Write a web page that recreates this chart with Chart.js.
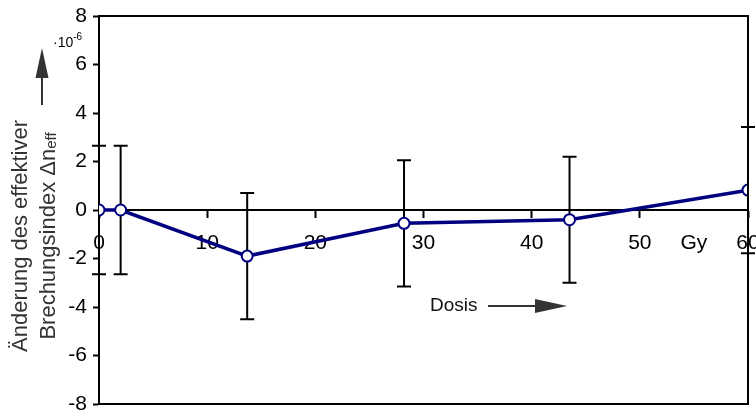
<!DOCTYPE html>
<html>
<head>
<meta charset="utf-8">
<script src="https://cdn.jsdelivr.net/npm/chart.js@4"></script>
<style>
html, body { margin: 0; padding: 0; background: #fff; }
#wrap { width: 756px; height: 414px; }
</style>
</head>
<body>
<div id="wrap"><canvas id="doseChart"></canvas></div>
<script>
// Messwerte (Dosis in Gy, Änderung in 1e-6)
const doseValues = [0, 2, 13.7, 28.2, 43.5, 60];
const deltaNeff = [0, 0, -1.9, -0.55, -0.4, 0.82];
const errorValues = [2.65, 2.65, 2.6, 2.6, 2.6, 2.6];
const xTickValues = [0, 10, 20, 30, 40, 50, 55, 60];
const xTickLabels = ['0', '10', '20', '30', '40', '50', 'Gy', '60'];
const yTickValues = [-8, -6, -4, -2, 0, 2, 4, 6, 8];

const FONT = '"Liberation Sans", Arial, sans-serif';

// Fehlerbalken hinter der Linie
const errorBarPlugin = {
    id: 'errorBars',
    beforeDatasetsDraw(chart) {
        const ctx = chart.ctx;
        const xs = chart.scales.x, ys = chart.scales.y;
        ctx.save();
        ctx.strokeStyle = '#000';
        ctx.lineWidth = 2;
        doseValues.forEach((d, i) => {
            const px = xs.getPixelForValue(d);
            const top = ys.getPixelForValue(deltaNeff[i] + errorValues[i]);
            const bot = ys.getPixelForValue(deltaNeff[i] - errorValues[i]);
            ctx.beginPath();
            ctx.moveTo(px, top); ctx.lineTo(px, bot);
            ctx.moveTo(px - 7, top); ctx.lineTo(px + 7, top);
            ctx.moveTo(px - 7, bot); ctx.lineTo(px + 7, bot);
            ctx.stroke();
        });
        ctx.restore();
    }
};

// Rahmen, Achsentitel, Pfeile
const decorPlugin = {
    id: 'decor',
    afterDraw(chart) {
        const ctx = chart.ctx;
        const a = chart.chartArea;
        ctx.save();
        ctx.strokeStyle = '#000';
        ctx.lineWidth = 2;
        ctx.beginPath();
        ctx.moveTo(a.left, a.top); ctx.lineTo(a.right, a.top);
        ctx.lineTo(a.right, a.bottom); ctx.lineTo(a.left, a.bottom);
        ctx.stroke();

        // y-Titel
        ctx.fillStyle = '#333';
        ctx.textBaseline = 'middle';
        ctx.translate(21, 236);
        ctx.rotate(-Math.PI / 2);
        ctx.font = '22px ' + FONT;
        ctx.textAlign = 'center';
        ctx.fillText('Änderung des effektiver', 0, 0);
        const main = 'Brechungsindex Δn';
        const sub = 'eff';
        const w1 = ctx.measureText(main).width;
        ctx.font = '15px ' + FONT;
        const w2 = ctx.measureText(sub).width;
        const sx = -(w1 + w2) / 2;
        ctx.textAlign = 'left';
        ctx.font = '22px ' + FONT;
        ctx.fillText(main, sx, 28);
        ctx.font = '15px ' + FONT;
        ctx.fillText(sub, sx + w1, 31);
        ctx.setTransform(1, 0, 0, 1, 0, 0);

        // Faktor 10^-6
        ctx.fillStyle = '#000';
        ctx.textAlign = 'left';
        ctx.textBaseline = 'alphabetic';
        ctx.font = '14px ' + FONT;
        ctx.fillText('·10', 53, 47);
        const wf = ctx.measureText('·10').width;
        ctx.font = '10px ' + FONT;
        ctx.fillText('-6', 53 + wf, 40);

        // Pfeil nach oben
        ctx.fillStyle = '#333';
        ctx.strokeStyle = '#333';
        ctx.lineWidth = 2;
        ctx.beginPath();
        ctx.moveTo(42, 105); ctx.lineTo(42, 76);
        ctx.stroke();
        ctx.beginPath();
        ctx.moveTo(35.5, 78); ctx.lineTo(48.5, 78); ctx.lineTo(42, 48);
        ctx.closePath();
        ctx.fill();

        // Dosis mit Pfeil
        ctx.fillStyle = '#111';
        ctx.font = '19px ' + FONT;
        ctx.textBaseline = 'middle';
        ctx.fillText('Dosis', 430, 306);
        ctx.fillStyle = '#333';
        ctx.beginPath();
        ctx.moveTo(488, 306); ctx.lineTo(537, 306);
        ctx.stroke();
        ctx.beginPath();
        ctx.moveTo(535, 299); ctx.lineTo(535, 313); ctx.lineTo(567, 306);
        ctx.closePath();
        ctx.fill();
        ctx.restore();
    }
};

const doseChartConfig = {
    type: 'line',
    data: {
        datasets: [{
            data: doseValues.map((d, i) => ({ x: d, y: deltaNeff[i] })),
            borderColor: '#000080',
            borderWidth: 3.5,
            pointRadius: 5.5,
            pointBorderWidth: 2,
            pointBackgroundColor: '#fff',
            pointBorderColor: '#000080',
            tension: 0
        }]
    },
    options: {
        responsive: true,
        maintainAspectRatio: false,
        animation: false,
        layout: { padding: { top: 16, right: 8, bottom: 10, left: 0 } },
        plugins: { legend: { display: false }, tooltip: { enabled: false } },
        scales: {
            x: {
                type: 'linear',
                min: 0,
                max: 60,
                position: { y: 0 },
                afterBuildTicks: scale => {
                    scale.ticks = xTickValues.map(v => ({ value: v }));
                },
                afterFit: scale => {
                    scale.paddingLeft = 0;
                    scale.paddingRight = 0;
                },
                ticks: {
                    autoSkip: false,
                    maxRotation: 0,
                    padding: 14,
                    color: '#000',
                    font: { family: FONT, size: 21 },
                    callback: value => xTickLabels[xTickValues.indexOf(value)]
                },
                grid: {
                    drawOnChartArea: false,
                    tickLength: 7,
                    tickWidth: 2,
                    tickColor: c => (c.tick && c.tick.value === 55) ? 'rgba(0,0,0,0)' : '#000'
                },
                border: { color: '#000', width: 2 }
            },
            y: {
                min: -8,
                max: 8,
                afterBuildTicks: scale => {
                    scale.ticks = yTickValues.map(v => ({ value: v }));
                },
                afterFit: scale => {
                    scale.width = 99;
                    scale.paddingTop = 0;
                    scale.paddingBottom = 0;
                },
                ticks: {
                    padding: 6,
                    color: '#000',
                    font: { family: FONT, size: 21 }
                },
                grid: {
                    drawOnChartArea: false,
                    tickLength: 6,
                    tickWidth: 2,
                    tickColor: '#000'
                },
                border: { color: '#000', width: 2 }
            }
        }
    },
    plugins: [errorBarPlugin, decorPlugin]
};

window.onload = function() {
    const ctx = document.getElementById('doseChart').getContext('2d');
    new Chart(ctx, doseChartConfig);
};
</script>
</body>
</html>
